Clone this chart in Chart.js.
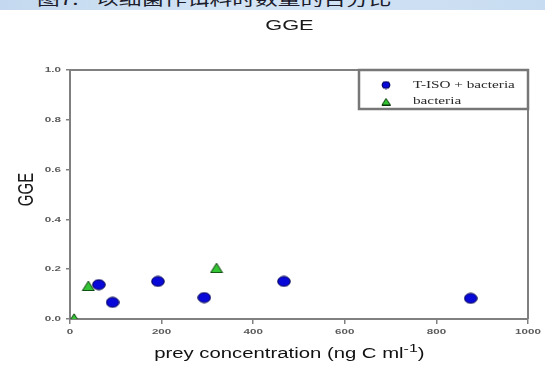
<!DOCTYPE html>
<html><head><meta charset="utf-8">
<script src="https://cdn.jsdelivr.net/npm/chart.js@4.4.1/dist/chart.umd.min.js"></script>
<style>
html,body{margin:0;padding:0;background:#fff;}
#wrap{position:relative;width:545px;height:371px;overflow:hidden;background:#fff;}
#banner{position:absolute;left:0;top:0;width:545px;height:10px;overflow:hidden;background:linear-gradient(90deg,#c4d9ef,#d3e4f5 45%,#c8dcf1);z-index:2;}
#banner span{position:absolute;top:-12px;font-family:"Noto Sans CJK SC";font-size:16px;line-height:20px;color:#1c1c2c;white-space:nowrap;transform-origin:0 0;transform:scaleX(1.42);}
canvas{position:absolute;left:0;top:0;}
</style></head>
<body>
<div id="wrap">
<div id="banner"><span style="left:37px">图7.</span><span style="left:96px">以细菌作饵料时数量的百分比</span></div>
<canvas id="c" width="545" height="371"></canvas>
</div>
<script>
// ---- data ----
const seriesLabels = ['T-ISO + bacteria', 'bacteria'];
const tisoX = [63, 93, 192, 293, 467, 875];
const tisoY = [0.138, 0.067, 0.151, 0.086, 0.151, 0.083];
const bactX = [9, 40, 320];
const bactY = [0.003, 0.134, 0.206];
const xTickValues = [0, 200, 400, 600, 800, 1000];
const xTickLabels = ['0', '200', '400', '600', '800', '1000'];
const yTickValues = [0, 0.2, 0.4, 0.6, 0.8, 1.0];
const yTickLabels = ['0.0', '0.2', '0.4', '0.6', '0.8', '1.0'];
const chartTitle = 'GGE';
const yTitle = 'GGE';
const xTitleMain = 'prey concentration (ng C ml';
const xTitleSup = '-1';
const xTitleEnd = ')';

// ---- styling ----
const SX = 1.45; // horizontal stretch of the reference picture
const AXIS = '#808080';

function ellipseImg(w, h, fill, stroke) {
  const c = document.createElement('canvas');
  c.width = w + 2; c.height = h + 2;
  const g = c.getContext('2d');
  g.beginPath(); g.ellipse(c.width / 2, c.height / 2, w / 2, h / 2, 0, 0, Math.PI * 2);
  g.fillStyle = fill; g.fill(); g.lineWidth = 1; g.strokeStyle = stroke; g.stroke();
  return c;
}
function triImg(w, h, fill, stroke) {
  const c = document.createElement('canvas');
  c.width = w + 2; c.height = h + 2;
  const g = c.getContext('2d');
  g.beginPath(); g.moveTo(c.width / 2, 1); g.lineTo(w + 1, h + 1); g.lineTo(1, h + 1); g.closePath();
  g.fillStyle = fill; g.fill(); g.lineWidth = 1; g.strokeStyle = stroke; g.stroke();
  return c;
}
const BLUE = '#0808d8', BLUE_E = '#00004a', GREEN = '#33c433', GREEN_E = '#0a3a0a';
const blueImg = ellipseImg(12.5, 10, BLUE, BLUE_E);
const greenImg = triImg(12, 9.5, GREEN, GREEN_E);
const blueLeg = ellipseImg(8, 7, BLUE, BLUE_E);
const greenLeg = triImg(8.5, 6.5, GREEN, GREEN_E);

function sText(ctx, text, x, y, align, font, color) {
  ctx.save();
  ctx.font = font; ctx.fillStyle = color; ctx.textBaseline = 'middle'; ctx.textAlign = 'left';
  const w = ctx.measureText(text).width * SX;
  const left = align === 'center' ? x - w / 2 : align === 'right' ? x - w : x;
  ctx.translate(left, y); ctx.scale(SX, 1); ctx.fillText(text, 0, 0);
  ctx.restore();
  return w;
}

const decor = {
  id: 'decor',
  afterDraw(chart) {
    const ctx = chart.ctx, a = chart.chartArea;
    const xs = chart.scales.x, ys = chart.scales.y;
    // frame top & right
    ctx.save();
    ctx.strokeStyle = AXIS; ctx.lineWidth = 2;
    ctx.beginPath();
    ctx.moveTo(a.left, a.top); ctx.lineTo(a.right, a.top); ctx.lineTo(a.right, a.bottom);
    ctx.stroke();
    ctx.restore();
    // tick labels
    const tf = 'bold 8px "Liberation Sans", Arial, sans-serif';
    xs.ticks.forEach(t => {
      const i = xTickValues.indexOf(t.value);
      if (i < 0) return;
      sText(ctx, xTickLabels[i], xs.getPixelForValue(t.value), a.bottom + 13, 'center', tf, '#5a5a5a');
    });
    ys.ticks.forEach(t => {
      const i = yTickValues.findIndex(v => Math.abs(v - t.value) < 1e-9);
      if (i < 0) return;
      sText(ctx, yTickLabels[i], a.left - 9, ys.getPixelForValue(t.value), 'right', tf, '#5a5a5a');
    });
    // titles
    const tF = '14px "Liberation Sans", Arial, sans-serif';
    const cx = a.left + (a.right - a.left) * 0.479;
    sText(ctx, chartTitle, cx, 26, 'center', '15px "Liberation Sans", Arial, sans-serif', '#1a1a1a');
    // x title with superscript
    ctx.save();
    ctx.font = tF;
    const w1 = ctx.measureText(xTitleMain).width * SX;
    const w3 = ctx.measureText(xTitleEnd).width * SX;
    ctx.font = '11px "Liberation Sans", Arial, sans-serif';
    const w2 = ctx.measureText(xTitleSup).width * SX;
    ctx.restore();
    const total = w1 + w2 + w3;
    let xx = cx - total / 2;
    const ty = 354;
    sText(ctx, xTitleMain, xx, ty, 'left', tF, '#111'); xx += w1;
    sText(ctx, xTitleSup, xx, ty - 5, 'left', '11px "Liberation Sans", Arial, sans-serif', '#111'); xx += w2;
    sText(ctx, xTitleEnd, xx, ty, 'left', tF, '#111');
    // y title rotated
    ctx.save();
    ctx.font = '15px "Liberation Sans", Arial, sans-serif'; ctx.fillStyle = '#1a1a1a'; ctx.textAlign = 'center'; ctx.textBaseline = 'middle';
    ctx.translate(27, (a.top + a.bottom) / 2 - 5);
    ctx.scale(SX, 1); ctx.rotate(-Math.PI / 2);
    ctx.fillText(yTitle, 0, 0);
    ctx.restore();
    // legend box
    const L = a.right - 169, T = a.top, R = a.right, B = a.top + 39;
    ctx.save();
    ctx.fillStyle = '#fff'; ctx.fillRect(L, T, R - L, B - T);
    ctx.strokeStyle = '#777'; ctx.lineWidth = 2.5;
    ctx.strokeRect(L, T, R - L, B - T);
    ctx.restore();
    const lf = '10.5px "Liberation Serif", "Times New Roman", serif';
    chart.data.datasets.forEach((ds, i) => {
      const y = T + 15 + i * 16.5;
      const img = i === 0 ? blueLeg : greenLeg;
      ctx.drawImage(img, L + 27 - img.width / 2, y - img.height / 2);
      sText(ctx, ds.label, L + 54, y, 'left', lf, '#2a2a2a');
    });
  }
};

new Chart(document.getElementById('c'), {
  type: 'scatter',
  data: {
    datasets: [
      { label: seriesLabels[0], data: tisoX.map((x, i) => ({ x, y: tisoY[i] })), pointStyle: blueImg, backgroundColor: BLUE, borderColor: BLUE_E },
      { label: seriesLabels[1], data: bactX.map((x, i) => ({ x, y: bactY[i] })), pointStyle: greenImg, backgroundColor: GREEN, borderColor: GREEN_E }
    ]
  },
  options: {
    responsive: false, animation: false,
    layout: { padding: { top: 70, right: 17, left: 0, bottom: 0 } },
    plugins: { legend: { display: false }, title: { display: false }, tooltip: { enabled: false } },
    scales: {
      x: {
        type: 'linear', min: 0, max: 1000,
        afterBuildTicks: s => { s.ticks = xTickValues.map(v => ({ value: v })); },
        afterFit: s => { s.height = 52; },
        ticks: { color: 'rgba(0,0,0,0)', font: { size: 8 } },
        grid: { drawOnChartArea: false, drawTicks: true, tickLength: 5, color: AXIS, lineWidth: 1.5 },
        border: { color: AXIS, width: 2 }
      },
      y: {
        type: 'linear', min: 0, max: 1,
        afterBuildTicks: s => { s.ticks = yTickValues.map(v => ({ value: v })); },
        afterFit: s => { s.width = 70; },
        ticks: { color: 'rgba(0,0,0,0)', font: { size: 8 } },
        grid: { drawOnChartArea: false, drawTicks: true, tickLength: 4, color: AXIS, lineWidth: 1.5 },
        border: { color: AXIS, width: 2 }
      }
    }
  },
  plugins: [decor]
});
</script>
</body></html>
